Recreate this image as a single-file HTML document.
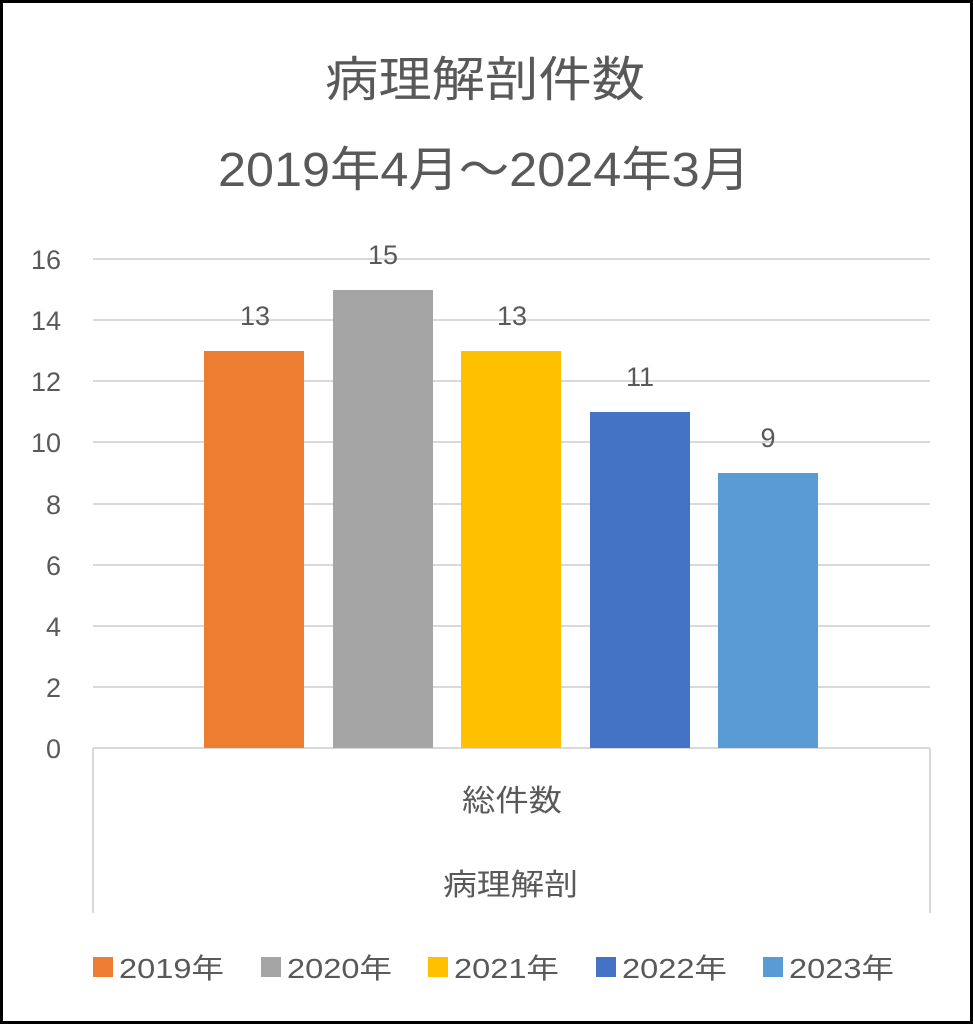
<!DOCTYPE html>
<html><head><meta charset="utf-8"><style>
html,body{margin:0;padding:0;background:#fff}
svg{display:block}
text{font-family:"Liberation Sans","Noto Sans CJK JP",sans-serif;fill:#595959}
</style></head><body>
<svg width="973" height="1024" viewBox="0 0 973 1024" xmlns="http://www.w3.org/2000/svg">
<rect x="1.5" y="1.5" width="970" height="1021" fill="#fff" stroke="#000" stroke-width="3"/>
<text x="325" y="96" font-size="48" textLength="320" lengthAdjust="spacingAndGlyphs">病理解剖件数</text>
<text x="218" y="186" font-size="48" textLength="532" lengthAdjust="spacingAndGlyphs">2019年4月～2024年3月</text>
<g stroke="#d9d9d9" stroke-width="2">
<line x1="93" y1="259" x2="930" y2="259"/>
<line x1="93" y1="320" x2="930" y2="320"/>
<line x1="93" y1="381" x2="930" y2="381"/>
<line x1="93" y1="442" x2="930" y2="442"/>
<line x1="93" y1="504" x2="930" y2="504"/>
<line x1="93" y1="565" x2="930" y2="565"/>
<line x1="93" y1="626" x2="930" y2="626"/>
<line x1="93" y1="687" x2="930" y2="687"/>
<line x1="93" y1="748" x2="930" y2="748"/>
<line x1="93" y1="748" x2="93" y2="913"/>
<line x1="930" y1="748" x2="930" y2="913"/>
</g>
<g font-size="27" text-anchor="end">
<text x="61" y="269">16</text><text x="61" y="330">14</text><text x="61" y="391">12</text>
<text x="61" y="452">10</text><text x="61" y="514">8</text><text x="61" y="575">6</text>
<text x="61" y="636">4</text><text x="61" y="697">2</text><text x="61" y="758">0</text>
</g>
<rect x="204" y="351" width="100" height="397" fill="#ed7d31"/>
<rect x="333" y="290" width="100" height="458" fill="#a5a5a5"/>
<rect x="461" y="351" width="100" height="397" fill="#ffc000"/>
<rect x="590" y="412" width="100" height="336" fill="#4472c4"/>
<rect x="718" y="473" width="100" height="275" fill="#5b9bd5"/>
<g font-size="27" text-anchor="middle">
<text x="255" y="325">13</text><text x="383" y="264">15</text><text x="512" y="325">13</text>
<text x="640" y="386">11</text><text x="768" y="447">9</text>
</g>
<g font-size="30">
<text x="462" y="811" textLength="100" lengthAdjust="spacingAndGlyphs">総件数</text>
<text x="443" y="895" textLength="135" lengthAdjust="spacingAndGlyphs">病理解剖</text>
</g>
<g font-size="28">
<rect x="93" y="957" width="20" height="20" fill="#ed7d31"/><text x="119" y="978" textLength="105" lengthAdjust="spacingAndGlyphs">2019年</text>
<rect x="261" y="957" width="20" height="20" fill="#a5a5a5"/><text x="287" y="978" textLength="105" lengthAdjust="spacingAndGlyphs">2020年</text>
<rect x="428" y="957" width="20" height="20" fill="#ffc000"/><text x="454" y="978" textLength="105" lengthAdjust="spacingAndGlyphs">2021年</text>
<rect x="596" y="957" width="20" height="20" fill="#4472c4"/><text x="622" y="978" textLength="105" lengthAdjust="spacingAndGlyphs">2022年</text>
<rect x="763" y="957" width="20" height="20" fill="#5b9bd5"/><text x="789" y="978" textLength="105" lengthAdjust="spacingAndGlyphs">2023年</text>
</g>
</svg>
</body></html>
